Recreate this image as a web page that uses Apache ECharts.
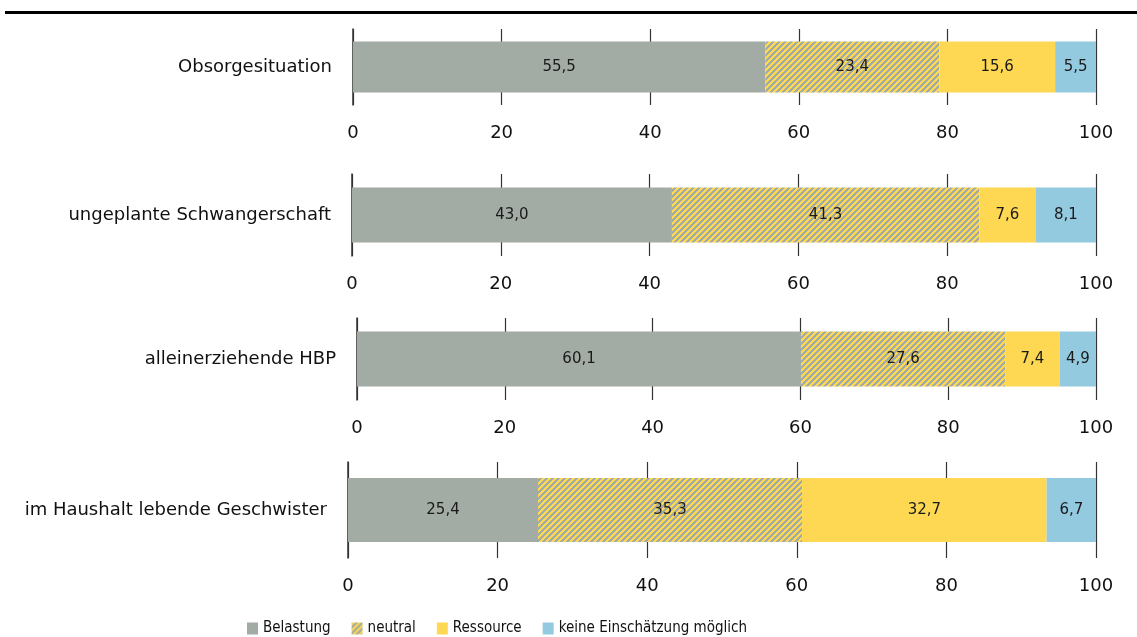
<!DOCTYPE html>
<html>
<head>
<meta charset="utf-8">
<script src="https://cdn.jsdelivr.net/npm/echarts@6/dist/echarts.min.js"></script>
<style>
  html, body { margin: 0; padding: 0; background: #fff; }
  #chart { width: 1137px; height: 637px; }
</style>
</head>
<body>
<div id="chart"></div>
<script>
// ---- Data ----
const categories = ['Obsorgesituation', 'ungeplante Schwangerschaft', 'alleinerziehende HBP', 'im Haushalt lebende Geschwister'];
const seriesNames = ['Belastung', 'neutral', 'Ressource', 'keine Einschätzung möglich'];
const belastung = [55.5, 43.0, 60.1, 25.4];
const neutral = [23.4, 41.3, 27.6, 35.3];
const ressource = [15.6, 7.6, 7.4, 32.7];
const keine = [5.5, 8.1, 4.9, 6.7];
const xTicks = [0, 20, 40, 60, 80, 100];

// ---- Layout (per panel) ----
const panels = [
  { left: 353, top: 29, height: 76, bar: 51 },
  { left: 352, top: 174, height: 82, bar: 55 },
  { left: 357, top: 318, height: 82, bar: 55 },
  { left: 348, top: 462, height: 96, bar: 64 }
];

const GREY = '#a3aba5', YELLOW = '#fed852', BLUE = '#94cae0';

// hatch pattern
const N = 12, P = 6;
const pc = document.createElement('canvas');
pc.width = N; pc.height = N;
const ctx = pc.getContext('2d');
ctx.fillStyle = GREY; ctx.fillRect(0, 0, N, N);
ctx.fillStyle = YELLOW;
for (let x = 0; x < N; x++) for (let y = 0; y < N; y++) {
  if ((x + y) % P < 3) ctx.fillRect(x, y, 1, 1);
}
const hatch = { image: pc, repeat: 'repeat' };

const colors = [GREY, hatch, YELLOW, BLUE];
const values = [belastung, neutral, ressource, keine];
const FONT = 'DejaVu Sans';

const grid = [], xAxis = [], yAxis = [], series = [];
panels.forEach((p, i) => {
  grid.push({ left: p.left, right: 41, top: p.top, height: p.height });
  xAxis.push({
    type: 'value', gridIndex: i, min: xTicks[0], max: xTicks[xTicks.length - 1],
    interval: xTicks[1] - xTicks[0],
    axisLine: { show: false }, axisTick: { show: false },
    splitLine: { show: true, lineStyle: { color: '#333', width: 1.2 } },
    axisLabel: { margin: 19, fontSize: 18, color: '#111', fontFamily: FONT }
  });
  yAxis.push({
    type: 'category', gridIndex: i, data: [categories[i]],
    axisLine: { show: true, lineStyle: { color: '#333', width: 1.5 } },
    axisTick: { show: false },
    axisLabel: { margin: 21, fontSize: 18, color: '#111', fontFamily: FONT }
  });
  seriesNames.forEach((name, k) => {
    series.push({
      name: name, type: 'bar', stack: 's' + i, xAxisIndex: i, yAxisIndex: i,
      barWidth: p.bar,
      data: [values[k][i]],
      itemStyle: { color: colors[k] },
      label: {
        show: true, position: 'inside', color: '#1a1a1a', fontSize: 15, fontFamily: FONT,
        formatter: (d) => d.value.toFixed(1).replace('.', ',')
      },
      emphasis: { disabled: true },
      animation: false
    });
  });
});

const chart = echarts.init(document.getElementById('chart'), null, { renderer: 'canvas' });
chart.setOption({
  animation: false,
  backgroundColor: '#fff',
  graphic: [{ type: 'rect', shape: { x: 5, y: 11, width: 1132, height: 3 }, style: { fill: '#000' } }],
  legend: {
    data: seriesNames, left: 242, top: 616, icon: 'rect', itemWidth: 11, itemHeight: 12,
    itemGap: 21, textStyle: { fontSize: 15, color: '#111', fontFamily: "'DejaVu Sans Condensed', sans-serif" }
  },
  grid, xAxis, yAxis, series
});
</script>
</body>
</html>
